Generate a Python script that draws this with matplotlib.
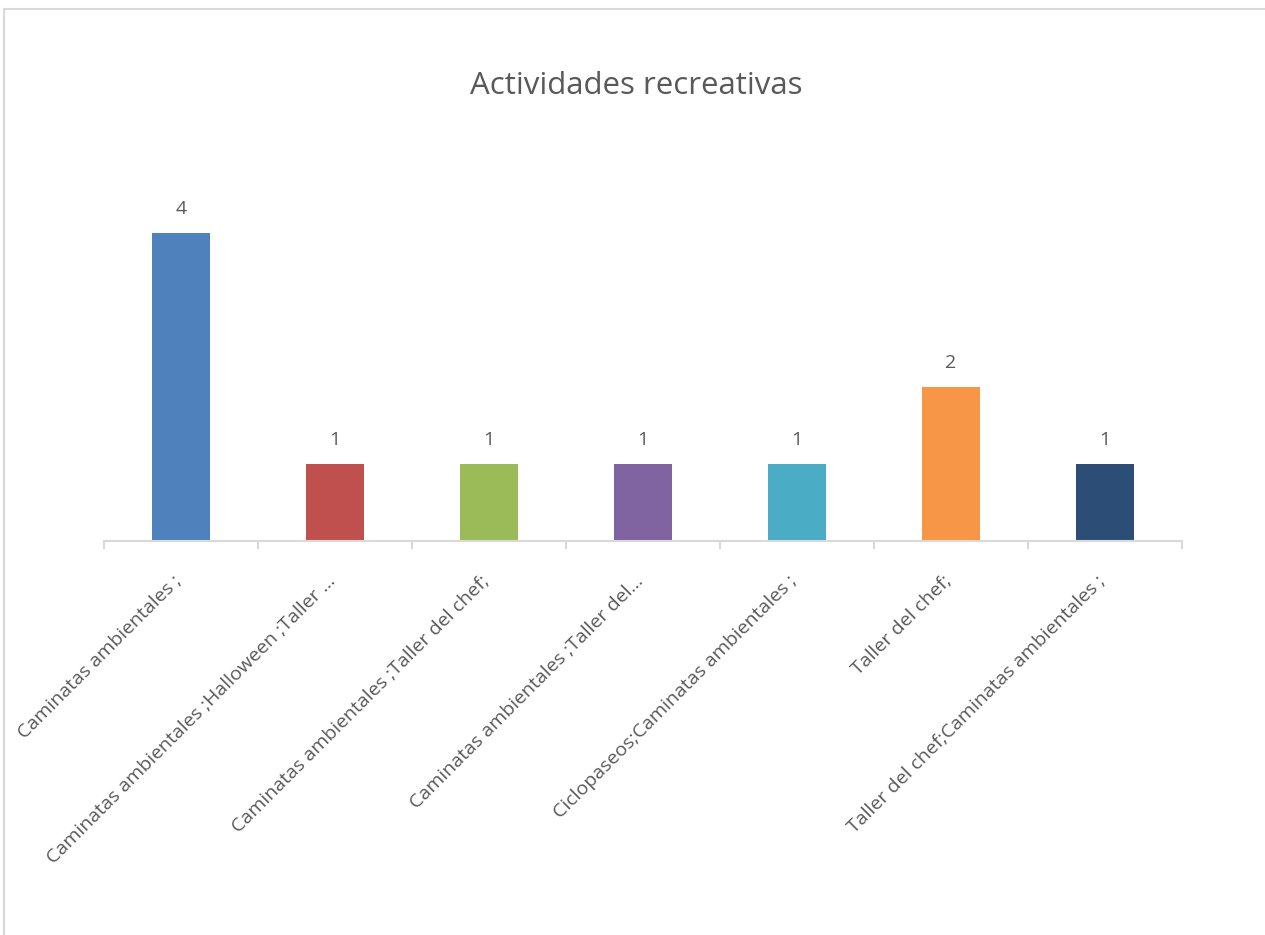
import matplotlib
matplotlib.use("Agg")
import matplotlib.pyplot as plt
from matplotlib.lines import Line2D
from matplotlib.transforms import offset_copy

plt.rcParams['font.family'] = ['Open Sans', 'DejaVu Sans']

# Datos
actividades = [
    "Caminatas ambientales ;",
    "Caminatas ambientales ;Halloween ;Taller …",
    "Caminatas ambientales ;Taller del chef;",
    "Caminatas ambientales ;Taller del…",
    "Ciclopaseos;Caminatas ambientales ;",
    "Taller del chef;",
    "Taller del chef;Caminatas ambientales ;",
]
conteos = [4, 1, 1, 1, 1, 2, 1]
colores = ["#4F81BD", "#C0504D", "#9BBB59", "#8064A2",
           "#4BACC6", "#F79646", "#2C4D75"]

gris_texto = "#595959"
gris_eje = "#D9D9D9"

fig = plt.figure(figsize=(12.65, 9.35), dpi=100)
ax = fig.add_axes([0.0822, 0.4214, 0.8522, 0.4118])

x = list(range(len(actividades)))
barras = ax.bar(x, conteos, width=0.375, color=colores)

# Etiquetas de valor sobre cada barra
for bar, n in zip(barras, conteos):
    ax.annotate(f"{n}", (bar.get_x() + bar.get_width() / 2, bar.get_height()),
                xytext=(0, 11), textcoords="offset points",
                ha="center", va="bottom", fontsize=14, color=gris_texto)

ax.set_xlim(-0.5, len(actividades) - 0.5)
ax.set_ylim(0, 5)
ax.set_yticks([])
for lado in ["top", "right", "left"]:
    ax.spines[lado].set_visible(False)
ax.spines["bottom"].set_color(gris_eje)
ax.spines["bottom"].set_linewidth(1.5)

# Marcas entre categorías
ax.set_xticks([i - 0.5 for i in range(len(actividades) + 1)], minor=True)
ax.tick_params(axis="x", which="minor", length=6, width=1.5, color=gris_eje)
ax.tick_params(axis="x", which="major", length=0)
ax.set_xticks(x)
ax.set_xticklabels(actividades, rotation=45, ha="right", va="top",
                   rotation_mode="anchor", fontsize=14, color=gris_texto)
for lbl in ax.get_xticklabels():
    lbl.set_transform(offset_copy(lbl.get_transform(), fig=fig, x=-9, y=-26, units="dots"))

fig.text(0.503, 0.908, "Actividades recreativas", ha="center", va="center",
         fontsize=22.5, color=gris_texto)

# Borde del área del gráfico (superior e izquierdo)
fig.add_artist(Line2D([4 / 1265, 4 / 1265], [0, 1 - 9 / 935], color=gris_eje, lw=1.5))
fig.add_artist(Line2D([4 / 1265, 1], [1 - 9 / 935, 1 - 9 / 935], color=gris_eje, lw=1.5))

fig.savefig("out.png", dpi=100)
